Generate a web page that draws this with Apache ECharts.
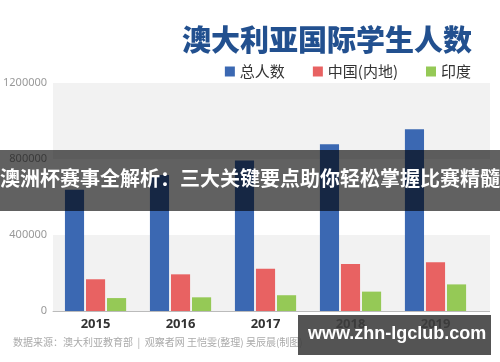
<!DOCTYPE html>
<html><head><meta charset="utf-8">
<script src="https://cdn.jsdelivr.net/npm/echarts@6/dist/echarts.min.js"></script>
<style>html,body{margin:0;padding:0;background:#fff}#c{width:500px;height:362px}</style>
</head><body><div id="c"></div>
<script>
const years = ['2015','2016','2017','2018','2019'];
const total = [638000, 716000, 792000, 877000, 956000];
const china = [167000, 193000, 223000, 247000, 256000];
const india = [68000, 72000, 83000, 102000, 140000];
const seriesNames = ['总人数','中国(内地)','印度'];
const yTicks = [0, 400000, 800000, 1200000];

const FONT = '"Noto Sans CJK SC", "Noto Sans", sans-serif';
const chart = echarts.init(document.getElementById('c'), null, {renderer:'canvas'});
chart.setOption({
  animation:false,
  backgroundColor:'#ffffff',
  textStyle:{fontFamily:FONT},
  title:{
    text:'澳大利亚国际学生人数',
    right:23, top:20,
    textStyle:{fontSize:29, fontWeight:900, color:'#22508f', fontFamily:FONT}
  },
  legend:{
    right:24, top:59, itemWidth:10, itemHeight:10, itemGap:28,
    icon:'rect',
    textStyle:{fontSize:15, color:'#333', fontFamily:FONT},
    data:seriesNames
  },
  grid:{left:52, right:22, top:83, bottom:51, containLabel:false},
  xAxis:{
    type:'category', data:years,
    axisLine:{lineStyle:{color:'#bbbbbb'}},
    axisTick:{show:false},
    axisLabel:{fontSize:13, fontWeight:'bold', color:'#333', margin:7, fontFamily:'"Noto Sans", sans-serif'}
  },
  yAxis:{
    type:'value', min:yTicks[0], max:yTicks[yTicks.length-1], interval:400000,
    axisLine:{show:false}, axisTick:{show:false},
    splitLine:{show:false},
    splitArea:{show:true, areaStyle:{color:['#f2f2f2','#ffffff']}},
    axisLabel:{fontSize:11, color:'#999', margin:6, fontFamily:'"Noto Sans", sans-serif',
      formatter:function(v){return String(v);}}
  },
  series:[
    {name:seriesNames[0], type:'bar', data:total, barGap:'10%', barCategoryGap:'28%', itemStyle:{color:'#3b68b2'}},
    {name:seriesNames[1], type:'bar', data:china, itemStyle:{color:'#e86262'}},
    {name:seriesNames[2], type:'bar', data:india, itemStyle:{color:'#95c956'}}
  ],
  graphic:[
    {type:'rect', z:0, silent:true, shape:{x:478, y:83, width:12, height:76}, style:{fill:'#f2f2f2'}},
    {type:'rect', z:0, silent:true, shape:{x:478, y:235, width:12, height:76}, style:{fill:'#f2f2f2'}},
    {type:'line', z:0, silent:true, shape:{x1:478, y1:311.5, x2:490, y2:311.5}, style:{stroke:'#bbbbbb', lineWidth:1}},
    {type:'text', left:13, top:337, z:10,
      style:{text:'数据来源：澳大利亚教育部  |  观察者网 王恺雯(整理) 吴辰晨(制图)', fontSize:10, fill:'#aaaaaa', fontFamily:FONT}},
    {type:'rect', z:100, silent:true, shape:{x:0, y:150, width:500, height:61}, style:{fill:'rgba(0,0,0,0.62)'}},
    {type:'text', z:101, left:0, top:168,
      style:{text:'澳洲杯赛事全解析：三大关键要点助你轻松掌握比赛精髓', fontSize:20, fontWeight:'bold', fill:'#ffffff', fontFamily:FONT}},
    {type:'rect', z:100, silent:true, shape:{x:298, y:315, width:193, height:40}, style:{fill:'rgba(60,60,60,0.88)'}},
    {type:'text', z:101, left:308, top:325,
      style:{text:'www.zhn-lgclub.com', fontSize:18, fontWeight:'bold', fill:'#ffffff', fontFamily:'"Liberation Sans", sans-serif'}}
  ]
});
</script></body></html>
